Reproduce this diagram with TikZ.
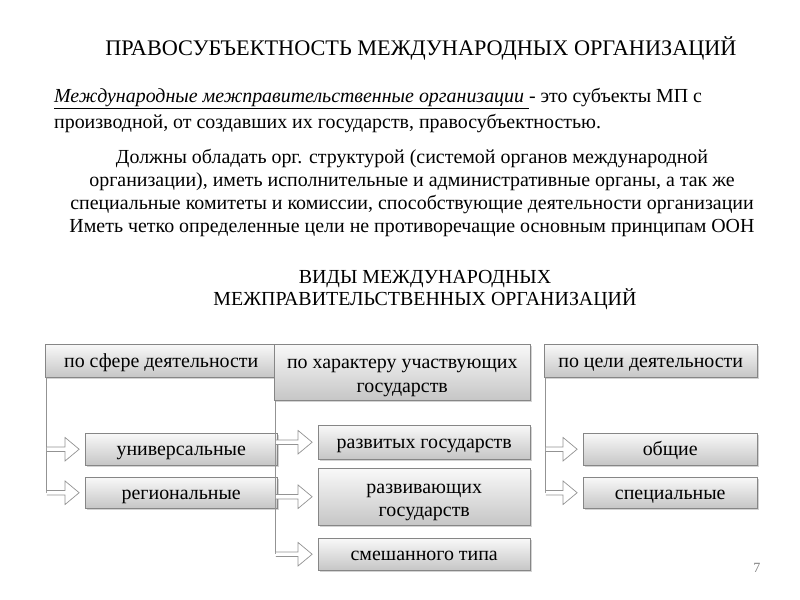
\documentclass[tikz,border=0pt]{standalone}
\usepackage{fontspec}
\setmainfont{Liberation Serif}
\usetikzlibrary{calc,shadows}

\newcommand{\twolines}[2]{\begin{tabular}{@{}c@{}}\rule{0pt}{20pt}#1\\#2\end{tabular}}

\tikzset{
  box/.style={draw=gray!95, top color=gray!5, bottom color=gray!45,
    drop shadow={shadow xshift=1.5pt, shadow yshift=-1.5pt, opacity=0.35},
    anchor=north west, font=\fontsize{17}{20}\selectfont, inner sep=1pt},
  oneline/.style={text height=12pt, text depth=1pt},
  trunk/.style={draw=gray!85, line width=0.6pt},
  blockarr/.style={draw=gray!85, line width=0.6pt, fill=white,
    to path={let \p1=(\tikztostart), \p2=(\tikztotarget) in
      (\x1,\y1+1.9pt) -- (\x2-17pt,\y1+1.9pt) -- (\x2-17pt,\y1+10pt)
      -- (\x2-5pt,\y1) -- (\x2-17pt,\y1-10pt) -- (\x2-17pt,\y1-1.9pt) -- (\x1,\y1-1.9pt)}}
}

\begin{document}
\begin{tikzpicture}[x=0.03cm, y=-0.03cm]
      \useasboundingbox (0,0) rectangle (800,600);

      % headings and text
      \node (title) at (421,48) {\fontsize{19}{22}\selectfont ПРАВОСУБЪЕКТНОСТЬ МЕЖДУНАРОДНЫХ ОРГАНИЗАЦИЙ};
      \node[anchor=north west, align=left, font=\fontsize{17}{22}\selectfont] (def) at (50,84)
        {\underline{\textit{Международные межправительственные организации }}- это субъекты МП с\\
         производной, от создавших их государств, правосубъектностью.};
      \node[anchor=north, align=center, font=\fontsize{17}{19.8}\selectfont] (req) at (412,145)
        {Должны обладать орг. структурой (системой органов международной\\
         организации), иметь исполнительные и административные органы, а так же\\
         специальные комитеты и комиссии, способствующие деятельности организации\\
         Иметь четко определенные цели не противоречащие основным принципам ООН};
      \node[align=center, font=\fontsize{17}{18}\selectfont] (kinds) at (425,290)
        {ВИДЫ МЕЖДУНАРОДНЫХ\\ МЕЖПРАВИТЕЛЬСТВЕННЫХ ОРГАНИЗАЦИЙ};

      % criteria
      \node[box, oneline, minimum width=6.96cm, minimum height=0.99cm] (sf) at (45,344) {по сфере деятельности};
      \node[box, minimum width=7.68cm, minimum height=1.68cm] (ch) at (274,344) {\twolines{по характеру участвующих}{государств}};
      \node[box, oneline, minimum width=6.39cm, minimum height=0.99cm] (cel) at (544,344) {по цели деятельности};

      % kinds
      \node[box, oneline, minimum width=5.76cm, minimum height=0.96cm] (univ) at (85,433) {универсальные};
      \node[box, oneline, minimum width=5.76cm, minimum height=0.93cm] (reg) at (85,477) {региональные};
      \node[box, oneline, minimum width=6.36cm, minimum height=1.02cm] (razv) at (318,425) {развитых государств};
      \node[box, minimum width=6.36cm, minimum height=1.71cm] (razvi) at (318,468) {\twolines{развивающих}{государств}};
      \node[box, oneline, minimum width=6.36cm, minimum height=0.96cm] (smesh) at (318,538) {смешанного типа};
      \node[box, oneline, minimum width=5.22cm, minimum height=0.96cm] (obsh) at (583,433) {общие};
      \node[box, oneline, minimum width=5.22cm, minimum height=0.93cm] (spec) at (583,477) {специальные};

      \node[text=gray, font=\fontsize{12}{14}\selectfont] (num) at (757,568) {7};

      \draw[trunk] ([xshift=1.5pt]sf.south west) -- ([xshift=1.5pt]sf.south west |- reg.west);
      \draw[trunk] ([xshift=1.5pt]ch.south west) -- ([xshift=1.5pt]ch.south west |- smesh.west);
      \draw[trunk] ([xshift=1.5pt]cel.south west) -- ([xshift=1.5pt]cel.south west |- spec.west);

      \path[every edge/.style={blockarr}]
      ([xshift=1.5pt]sf.south west |- univ.west) edge (univ.west)
      ([xshift=1.5pt]sf.south west |- reg.west) edge (reg.west)

      ([xshift=1.5pt]ch.south west |- razv.west) edge (razv.west)
      ([xshift=1.5pt]ch.south west |- razvi.west) edge (razvi.west)
      ([xshift=1.5pt]ch.south west |- smesh.west) edge (smesh.west)

      ([xshift=1.5pt]cel.south west |- obsh.west) edge (obsh.west)
      ([xshift=1.5pt]cel.south west |- spec.west) edge (spec.west);
    \end{tikzpicture}
\end{document}
